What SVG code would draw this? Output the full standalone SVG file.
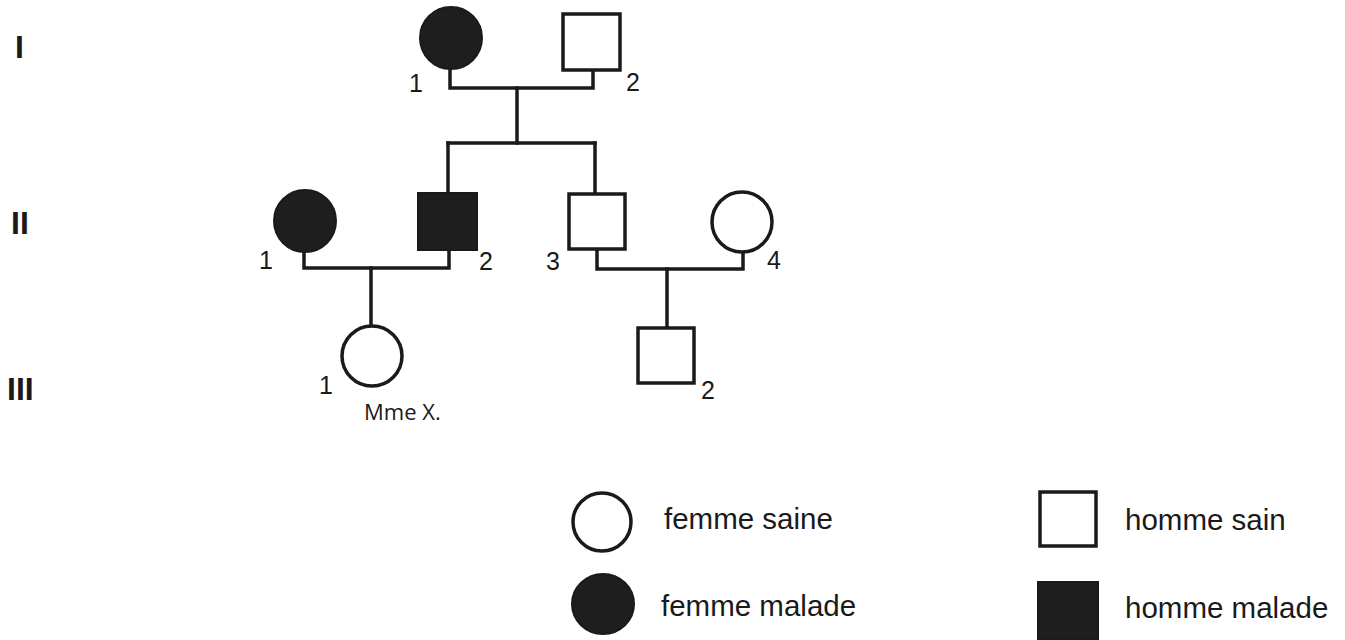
<svg xmlns="http://www.w3.org/2000/svg" width="1345" height="640" viewBox="0 0 1345 640">
<style>
.o{fill:#fff;stroke:#1a1a1a;stroke-width:3.5}
.f{fill:#1e1e1e;stroke:#1a1a1a;stroke-width:2}
.ln{fill:none;stroke:#1a1a1a;stroke-width:3.5;stroke-linecap:square}
.n{font-family:"Liberation Sans",Arial,sans-serif;font-size:25px;fill:#1a1a1a}
.g{font-family:"Liberation Sans",Arial,sans-serif;font-size:32px;font-weight:bold;fill:#1a1a1a}
.lg{font-family:"Liberation Sans",Arial,sans-serif;font-size:29.5px;fill:#1a1a1a}
.mx{font-family:"Open Sans","Liberation Sans",sans-serif;font-size:22px;fill:#1a1a1a}
</style>
<rect width="1345" height="640" fill="#fff"/>
<g id="generations">
<text class="g" x="15" y="58">I</text>
<text class="g" x="11" y="234">II</text>
<text class="g" x="7" y="400">III</text>
</g>
<g id="connectors">
<path class="ln" d="M450 69 V88 H593 V70"/>
<path class="ln" d="M517 88 V143"/>
<path class="ln" d="M448 143 H595"/>
<path class="ln" d="M448 143 V193"/>
<path class="ln" d="M595 143 V193"/>
<path class="ln" d="M304 252 V268 H449 V250"/>
<path class="ln" d="M371 268 V325"/>
<path class="ln" d="M597 249 V269 H743 V252"/>
<path class="ln" d="M667 269 V327"/>
</g>
<g id="I-1"><circle class="f" cx="451" cy="38" r="31"/><text class="n" x="409" y="92">1</text></g>
<g id="I-2"><rect class="o" x="563" y="14" width="57" height="56"/><text class="n" x="626" y="91">2</text></g>
<g id="II-1"><circle class="f" cx="305" cy="221" r="31"/><text class="n" x="259" y="269">1</text></g>
<g id="II-2"><rect class="f" x="418" y="193" width="59" height="57"/><text class="n" x="479" y="270">2</text></g>
<g id="II-3"><rect class="o" x="569" y="194" width="56" height="55"/><text class="n" x="546" y="270">3</text></g>
<g id="II-4"><circle class="o" cx="742" cy="222" r="30"/><text class="n" x="767" y="269">4</text></g>
<g id="III-1"><circle class="o" cx="372" cy="356" r="30"/><text class="n" x="319" y="394">1</text><text class="mx" x="364" y="420">Mme X.</text></g>
<g id="III-2"><rect class="o" x="638" y="328" width="56" height="55"/><text class="n" x="701" y="399">2</text></g>
<g id="legend">
<g id="leg-femme-saine"><ellipse class="o" cx="602" cy="522" rx="29" ry="29"/><text class="lg" x="664" y="529">femme saine</text></g>
<g id="leg-femme-malade"><ellipse class="f" cx="603" cy="604" rx="31" ry="30"/><text class="lg" x="661" y="616">femme malade</text></g>
<g id="leg-homme-sain"><rect class="o" x="1040" y="492" width="56" height="54"/><text class="lg" x="1125" y="530">homme sain</text></g>
<g id="leg-homme-malade"><rect class="f" x="1038" y="582" width="60" height="58"/><text class="lg" x="1125" y="618">homme malade</text></g>
</g>
</svg>
